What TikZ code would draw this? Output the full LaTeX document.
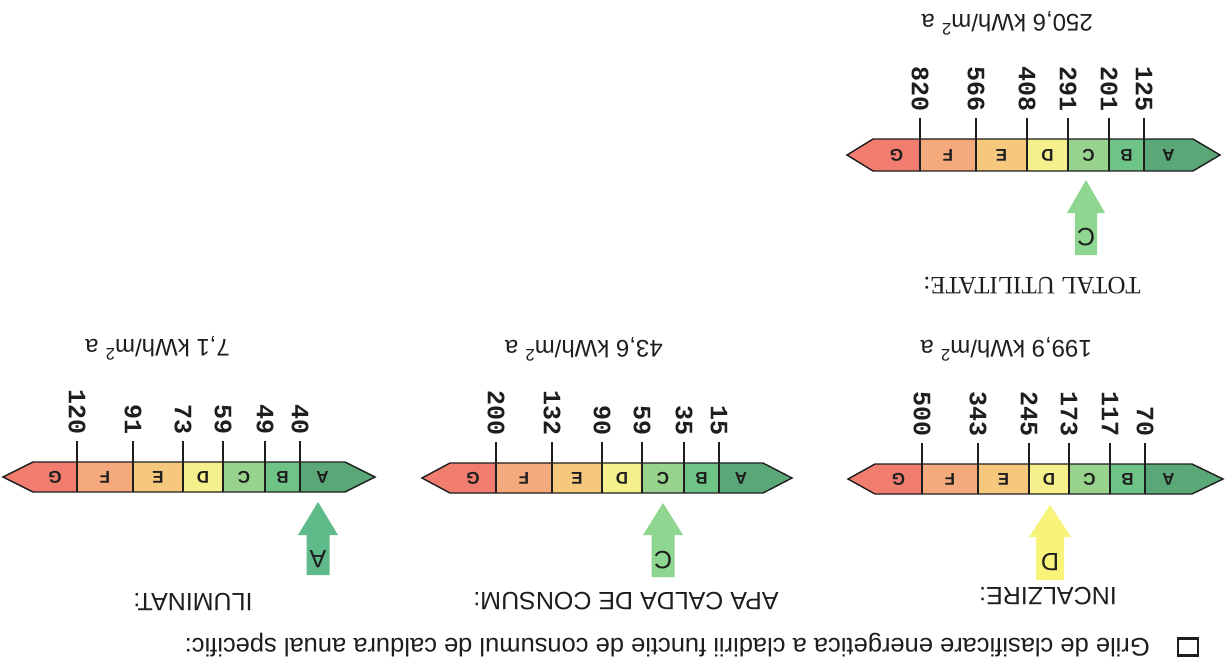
\documentclass[tikz,border=0pt]{standalone}
\usepackage{fontspec}
\setmainfont{Liberation Sans}
\newfontfamily\timesfont{Liberation Serif}
\newfontfamily\monofont{Liberation Mono}

\definecolor{segA}{HTML}{5AA878}
\definecolor{segB}{HTML}{6EC387}
\definecolor{segC}{HTML}{98D38E}
\definecolor{segD}{HTML}{F6F08C}
\definecolor{segE}{HTML}{F5C87D}
\definecolor{segF}{HTML}{F5AA7D}
\definecolor{segG}{HTML}{F07D6E}
\definecolor{arrC}{HTML}{8FD690}
\definecolor{arrD}{HTML}{F8F47A}
\definecolor{arrA}{HTML}{5FBA8A}
\definecolor{ink}{HTML}{1E1E1E}

% split a six-item list into single macros
\def\setdivs#1,#2,#3,#4,#5,#6\relax{\def\divA{#1}\def\divB{#2}\def\divC{#3}\def\divD{#4}\def\divE{#5}\def\divF{#6}}
\def\setvals#1,#2,#3,#4,#5,#6\relax{\def\valA{#1}\def\valB{#2}\def\valC{#3}\def\valD{#4}\def\valE{#5}\def\valF{#6}}

% energy class bar (drawn with class A on the right, G on the left)
% #1 prefix, #2 top y, #3 bottom y, #4 left tip x, #5 left body x,
% #6 right body x, #7 right tip x, #8 divider positions, #9 limit values
\newcommand\gradebar[9]{%
  \setdivs#8\relax\setvals#9\relax
  \pgfmathsetmacro\ym{(#2+#3)/2}%
  \fill[segG] (#4,\ym) -- (#5,#2) -- (\divA,#2) -- (\divA,#3) -- (#5,#3) -- cycle;
  \fill[segF] (\divA,#2) rectangle (\divB,#3);
  \fill[segE] (\divB,#2) rectangle (\divC,#3);
  \fill[segD] (\divC,#2) rectangle (\divD,#3);
  \fill[segC] (\divD,#2) rectangle (\divE,#3);
  \fill[segB] (\divE,#2) rectangle (\divF,#3);
  \fill[segA] (\divF,#2) -- (#6,#2) -- (#7,\ym) -- (#6,#3) -- (\divF,#3) -- cycle;
  \draw[barline] (#4,\ym) -- (#5,#2) -- (#6,#2) -- (#7,\ym) -- (#6,#3) -- (#5,#3) -- cycle;
  \node[grade] (#1-G) at ({(#5+\divA)/2},\ym) {G};
  \node[grade] (#1-F) at ({(\divA+\divB)/2},\ym) {F};
  \node[grade] (#1-E) at ({(\divB+\divC)/2},\ym) {E};
  \node[grade] (#1-D) at ({(\divC+\divD)/2},\ym) {D};
  \node[grade] (#1-C) at ({(\divD+\divE)/2},\ym) {C};
  \node[grade] (#1-B) at ({(\divE+\divF)/2},\ym) {B};
  \node[grade] (#1-A) at ({(\divF+#6)/2},\ym) {A};
  \foreach \x/\v [count=\i] in {\divA/\valA,\divB/\valB,\divC/\valC,\divD/\valD,\divE/\valE,\divF/\valF}{
    \draw[tick] (\x,#2-21) -- (\x,#3);
    \node[limit] (#1-n\i) at (\x,#2-27) {\v};
  }%
}

% class pointer arrow with its letter
% #1 name, #2 colour, #3 centre x, #4 tip y, #5 head base y, #6 bottom y,
% #7 head half width, #8 shaft half width, #9 letter
\newcommand\ratearrow[9]{%
  \fill[#2] (#3,#4) -- ({#3+#7},#5) -- ({#3+#8},#5) -- ({#3+#8},#6)
    -- ({#3-#8},#6) -- ({#3-#8},#5) -- ({#3-#7},#5) -- cycle;
  \node[arrowletter] (#1) at (#3,{#4+48}) {#9};
}

\begin{document}
\begin{tikzpicture}[x=1pt,y=-1pt,
  barline/.style={draw=ink,line width=1.4pt,line join=miter},
  tick/.style={draw=ink,line width=1.2pt},
  grade/.style={rotate=180,inner sep=0,text=ink,font=\bfseries\fontsize{17}{20}\selectfont},
  limit/.style={rotate=-90,anchor=east,inner sep=0,text=ink,font=\monofont\bfseries\fontsize{25}{28}\selectfont},
  val/.style={rotate=180,anchor=base west,inner sep=0,text=ink,font=\fontsize{24}{28}\selectfont},
  title/.style={rotate=180,anchor=base,inner sep=0,text=ink},
  arrowletter/.style={rotate=180,anchor=base,inner sep=0,text=ink,font=\fontsize{25}{30}\selectfont}]
\useasboundingbox (0,0) rectangle (1226,662);
\fill[white] (0,0) rectangle (1226,662);

% class bars
\gradebar{tot}{139}{171}{847}{873}{1193}{1220}{920,976,1027,1068,1109,1144}{820,566,408,291,201,125}
\gradebar{inc}{464}{494}{848}{875}{1192}{1223}{922,978,1029,1069,1110,1145}{500,343,245,173,117,70}
\gradebar{apa}{463}{493}{422}{450}{763}{792}{496,552,602,642,684,719}{200,132,90,59,35,15}
\gradebar{ilu}{462}{492}{3}{33}{345}{375}{77,133,183,223,265,300}{120,91,73,59,49,40}

% specific consumption values
\node[val] (vTot) at (1093,14) {250,6 kWh/m\textsuperscript{2} a};
\node[val] (vInc) at (1092,340) {199,9 kWh/m\textsuperscript{2} a};
\node[val] (vApa) at (663,340) {43,6 kWh/m\textsuperscript{2} a};
\node[val] (vIlu) at (230,339) {7,1 kWh/m\textsuperscript{2} a};

% pointers to the reached class
\ratearrow{arrTot}{arrC}{1086}{180}{213}{255}{19}{11}{C}
\ratearrow{arrInc}{arrD}{1050}{505}{537}{580}{21}{14}{D}
\ratearrow{arrApa}{arrC}{663}{503}{535}{577}{20}{11.5}{C}
\ratearrow{arrIlu}{arrA}{318}{502}{535}{575}{20}{11.5}{A}

% headings
\node[title,font=\timesfont\fontsize{25}{30}\selectfont] (tTot) at (1032,277) {TOTAL UTILITATE:};
\node[title,font=\fontsize{25}{30}\selectfont] (tInc) at (1048,587) {INCALZIRE:};
\node[title,font=\fontsize{25}{30}\selectfont] (tApa) at (626,592) {APA CALDA DE CONSUM:};
\node[title,font=\fontsize{25}{30}\selectfont] (tIlu) at (193,593) {ILUMINAT:};

% caption line
\node[draw=ink,line width=2.2pt,minimum width=20pt,minimum height=17pt,inner sep=0] (box) at (1188,647) {};
\node[val,font=\fontsize{25.5}{30}\selectfont] (cap) at (1150,638)
  {Grile de clasificare energetica a cladirii functie de consumul de caldura anual specific:};
\end{tikzpicture}
\end{document}
